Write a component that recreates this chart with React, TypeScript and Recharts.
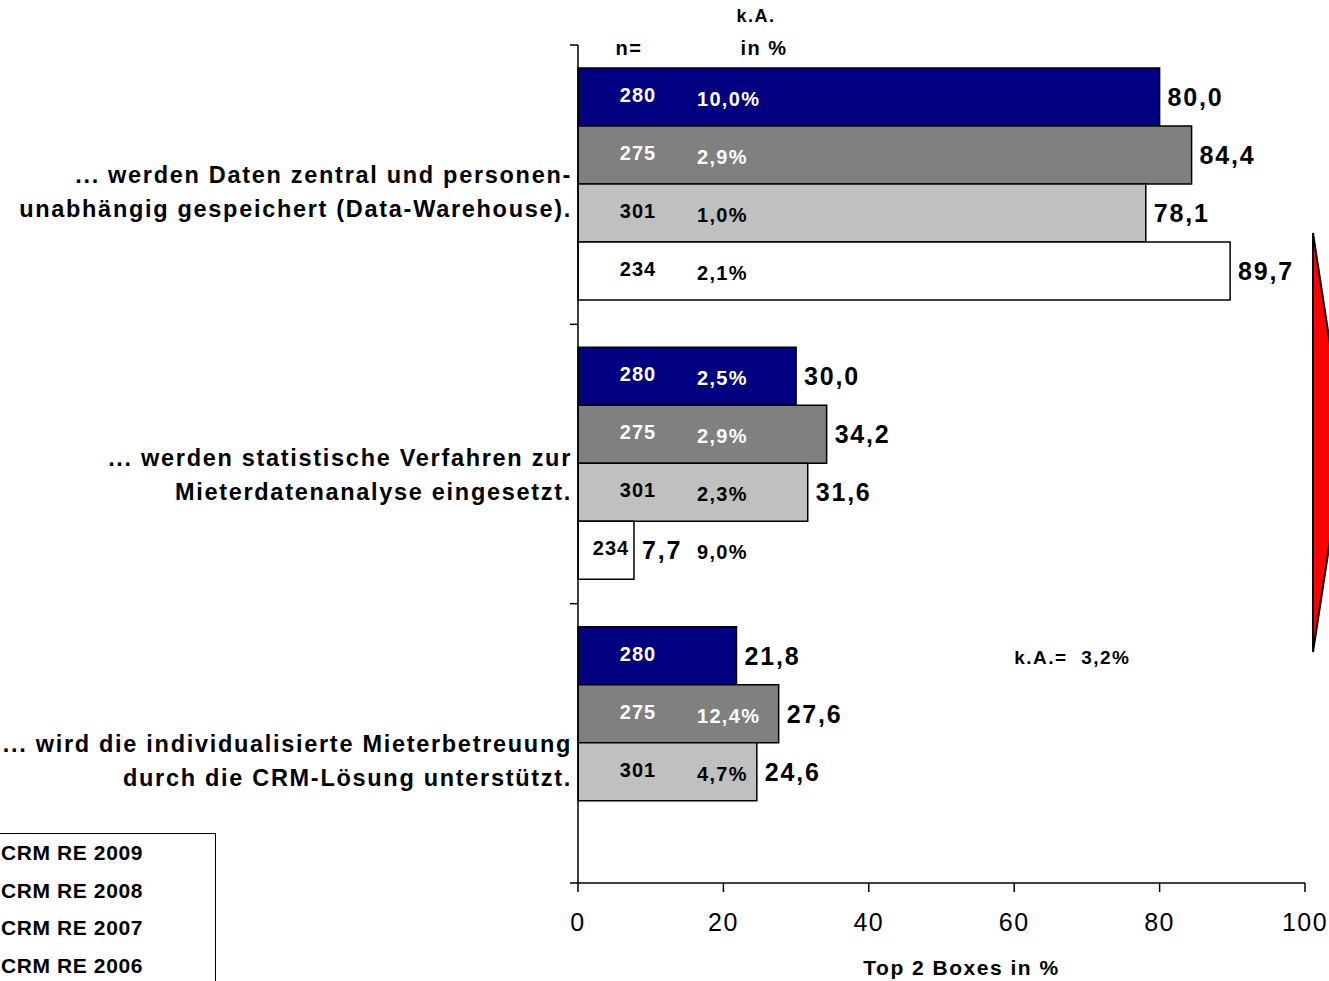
import React from 'react';
import { BarChart, Bar, XAxis, YAxis, LabelList, Legend } from 'recharts';

// categories (statements), split as drawn
const categoryLines = [
  ['... werden Daten zentral und personen-', 'unabhängig gespeichert (Data-Warehouse).'],
  ['... werden statistische Verfahren zur', 'Mieterdatenanalyse eingesetzt.'],
  ['... wird die individualisierte Mieterbetreuung', 'durch die CRM-Lösung unterstützt.'],
];

// Top 2 Boxes in %
const top2_2009 = [80.0, 30.0, 21.8];
const top2_2008 = [84.4, 34.2, 27.6];
const top2_2007 = [78.1, 31.6, 24.6];
const top2_2006 = [89.7, 7.7, null];

// sample sizes
const n_2009 = [280, 280, 280];
const n_2008 = [275, 275, 275];
const n_2007 = [301, 301, 301];
const n_2006 = [234, 234, null];

// k.A. (no answer) in %
const ka_2009 = ['10,0%', '2,5%', '3,2%'];
const ka_2008 = ['2,9%', '2,9%', '12,4%'];
const ka_2007 = ['1,0%', '2,3%', '4,7%'];
const ka_2006 = ['2,1%', '9,0%', null];

const xTicks = [0, 20, 40, 60, 80, 100];

const series = [
  { key: '2009', name: 'CRM RE 2009', fill: '#000080', text: '#ffffff', top2: top2_2009, n: n_2009, ka: ka_2009 },
  { key: '2008', name: 'CRM RE 2008', fill: '#808080', text: '#ffffff', top2: top2_2008, n: n_2008, ka: ka_2008 },
  { key: '2007', name: 'CRM RE 2007', fill: '#c0c0c0', text: '#000000', top2: top2_2007, n: n_2007, ka: ka_2007 },
  { key: '2006', name: 'CRM RE 2006', fill: '#ffffff', text: '#000000', top2: top2_2006, n: n_2006, ka: ka_2006 },
];

const data = categoryLines.map((lines, i) => {
  const row: any = { cat: lines.join(' ') };
  series.forEach((s) => {
    row['v' + s.key] = s.top2[i];
    row['n' + s.key] = s.n[i];
    row['ka' + s.key] = s.ka[i];
  });
  return row;
});

const FONT = '"Liberation Sans", Arial, sans-serif';
const fmt = (v: number) => v.toFixed(1).replace('.', ',');

const box = (p: any) => {
  const vb = p.viewBox || p;
  return { x: vb.x ?? p.x, y: vb.y ?? p.y, w: vb.width ?? p.width, h: vb.height ?? p.height };
};

// the statements sit a little below the band centre, lower for the later ones
const labelNudge = [7, 11, 18];

const CategoryTick = (props: any) => {
  const { x, y, index, payload } = props;
  const count = categoryLines.length;
  const band = (props.height ?? 838) / count;
  const lines = categoryLines[index] ?? [String(payload.value)];
  return (
    <g>
      <line x1={x - 8} x2={x} y1={y - band / 2} y2={y - band / 2} stroke="#000" strokeWidth={1.5} />
      {index === count - 1 && (
        <line x1={x - 8} x2={x} y1={y + band / 2} y2={y + band / 2} stroke="#000" strokeWidth={1.5} />
      )}
      {lines.map((l, i) => (
        <text key={i} x={x - 6} y={y + (labelNudge[index] ?? 12) + (i - (lines.length - 1) / 2) * 34} textAnchor="end"
          dominantBaseline="central" fontSize={23.5} fontWeight="bold" fill="#000" fontFamily={FONT} letterSpacing={1.7}>
          {l}
        </text>
      ))}
    </g>
  );
};

const makeInner = (s: any) => (p: any) => {
  const { x, y, w, h } = box(p);
  const i = p.index;
  const nVal = s.n[i];
  const ka = s.ka[i];
  const v = s.top2[i];
  if (nVal == null || v == null) return null;
  const cy = y + h / 2;
  const nx = Math.min(x + 60, x + w - 23);
  const els: any[] = [
    <text key="n" x={nx} y={cy - 2} textAnchor="middle" dominantBaseline="central" fontSize={20}
      fontWeight="bold" fill={s.text} fontFamily={FONT} letterSpacing={1}>{nVal}</text>,
  ];
  if (ka) {
    if (s.key === '2009' && i === 2) {
      // k.A. written apart, at the 60 % position of the axis
      els.push(
        <text key="ka" x={x + (w * 60) / v} y={cy + 2} dominantBaseline="central" fontSize={19}
          fontWeight="bold" fill="#000" fontFamily={FONT} letterSpacing={1.5} style={{ whiteSpace: 'pre' }}>{'k.A.=  ' + ka}</text>
      );
    } else {
      const inside = x + 120 < x + w;
      els.push(
        <text key="ka" x={x + 119} y={cy + 2} dominantBaseline="central" fontSize={20}
          fontWeight="bold" fill={inside ? s.text : '#000'} fontFamily={FONT} letterSpacing={1.3}>{ka}</text>
      );
    }
  }
  return <g>{els}</g>;
};

const ValueLabel = (p: any) => {
  const { x, y, w, h } = box(p);
  if (p.value == null) return null;
  return (
    <text x={x + w + 8} y={y + h / 2} dominantBaseline="central" fontSize={25} fontWeight="bold"
      fill="#000" fontFamily={FONT} letterSpacing={1.8}>{fmt(Number(p.value))}</text>
  );
};

const LegendBox = (props: any) => {
  const payload = [...(props.payload || [])].sort((a: any, b: any) =>
    String(b.value).localeCompare(String(a.value)));
  return (
    <div style={{ border: '1.5px solid #000', width: 344, height: 180, background: '#fff', position: 'relative', boxSizing: 'border-box' }}>
      {payload.map((e: any, i: number) => (
        <div key={i} style={{ position: 'absolute', top: 7 + i * 37.5, left: 30, display: 'flex', alignItems: 'center', height: 24 }}>
          <span style={{ width: 60, height: 16, background: e.color, border: '1px solid #000', display: 'inline-block', marginRight: 36 }} />
          <span style={{ fontFamily: FONT, fontWeight: 'bold', fontSize: 21, color: '#000', whiteSpace: 'nowrap', letterSpacing: 0.6 }}>{e.value}</span>
        </div>
      ))}
    </div>
  );
};

export default function App() {
  return (
    <div style={{ position: 'absolute', left: 0, top: 0, width: 1329, height: 981, overflow: 'hidden', background: '#fff', fontFamily: FONT }}>
      <BarChart width={1329} height={981} data={data} layout="vertical"
        margin={{ top: 45, right: 24, bottom: 0, left: 0 }} barCategoryGap={23} barGap={0}>
        <XAxis type="number" domain={[0, 100]} ticks={xTicks} interval={0} height={98}
          tick={{ fontSize: 25, fill: '#000', fontFamily: FONT, letterSpacing: 1.5 }} tickSize={9} tickMargin={21}
          axisLine={{ stroke: '#000', strokeWidth: 1.5 }} tickLine={{ stroke: '#000', strokeWidth: 1.5 }}
          label={{ value: 'Top 2 Boxes in %', position: 'insideBottom', offset: 6, dx: 20, fontSize: 21, fontWeight: 'bold', fill: '#000', fontFamily: FONT, letterSpacing: 1.5 }} />
        <YAxis type="category" dataKey="cat" width={578} tickSize={0} tickMargin={0} tickLine={false}
          axisLine={{ stroke: '#000', strokeWidth: 1.5 }} tick={<CategoryTick />} interval={0} />
        <Legend layout="vertical" align="center" verticalAlign="middle" content={<LegendBox />}
          wrapperStyle={{ left: -128, top: 833, width: 344 }} />
        {series.map((s) => (
          <Bar key={s.key} dataKey={'v' + s.key} name={s.name} fill={s.fill} stroke="#000" strokeWidth={1.5}
            isAnimationActive={false}>
            <LabelList dataKey={'n' + s.key} content={makeInner(s)} />
            <LabelList dataKey={'v' + s.key} content={ValueLabel} />
          </Bar>
        ))}
      </BarChart>
      <svg width={1329} height={981} style={{ position: 'absolute', left: 0, top: 0, pointerEvents: 'none' }}>
        <text x={629} y={48} textAnchor="middle" dominantBaseline="central" fontSize={20} fontWeight="bold" fontFamily={FONT} letterSpacing={1.5}>n=</text>
        <text x={756} y={16} textAnchor="middle" dominantBaseline="central" fontSize={18} fontWeight="bold" fontFamily={FONT} letterSpacing={1.5}>k.A.</text>
        <text x={764} y={48} textAnchor="middle" dominantBaseline="central" fontSize={20} fontWeight="bold" fontFamily={FONT} letterSpacing={1.5}>in %</text>
        <polygon points="1313,233 1345,442 1313,652" fill="#ff0000" stroke="#000" strokeWidth={2} />
      </svg>
    </div>
  );
}
